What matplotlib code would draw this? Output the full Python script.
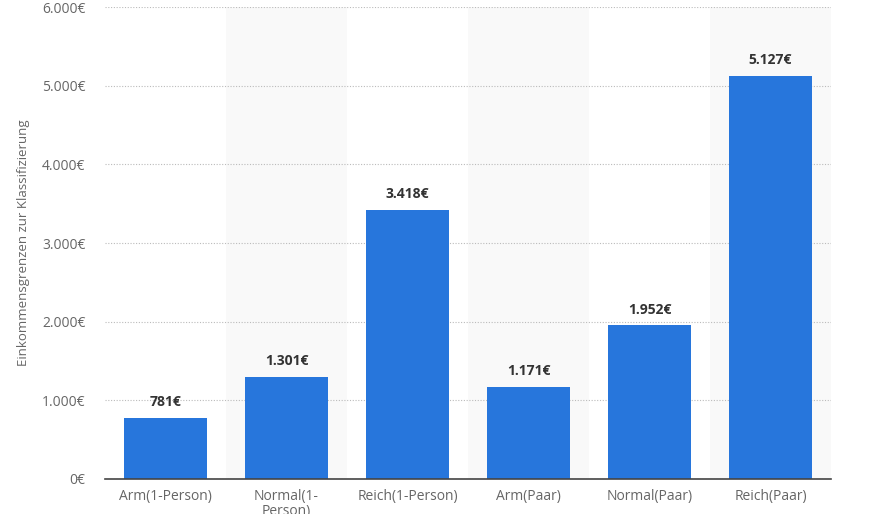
import matplotlib
matplotlib.use("Agg")
import matplotlib.pyplot as plt
from matplotlib.ticker import FuncFormatter

categories = ["Arm(1-Person)", "Normal(1-\nPerson)", "Reich(1-Person)", "Arm(Paar)", "Normal(Paar)", "Reich(Paar)"]
values = [781, 1301, 3418, 1171, 1952, 5127]
yticks = [0, 1000, 2000, 3000, 4000, 5000, 6000]
ylabel = "Einkommensgrenzen zur Klassifizierung"

def eur(v):
    return f"{int(v):,}".replace(",", ".") + "€"

plt.rcParams['font.family'] = ['Open Sans', 'DejaVu Sans']

fig = plt.figure(figsize=(8.69, 5.14), dpi=100)
ax = fig.add_axes([105/869, 35/514, 726/869, 472/514])

x = list(range(len(categories)))
for i in x:
    if i % 2 == 1:
        ax.axvspan(i - 0.5, i + 0.5, color="#f9f9f9", zorder=0, lw=0)

ax.bar(x, values, width=0.69, color="#2776dc", zorder=3)
for xi, v in zip(x, values):
    ax.text(xi, v + 110, eur(v), ha="center", va="bottom", fontsize=10,
            fontweight="bold", color="#333333", zorder=4)

ax.set_xlim(-0.5, len(categories) - 0.5)
ax.set_ylim(0, 6000)
ax.set_yticks(yticks)
ax.yaxis.set_major_formatter(FuncFormatter(lambda v, p: eur(v)))
ax.set_xticks(x)
ax.set_xticklabels(categories, linespacing=1.0)
ax.tick_params(axis="both", length=0, labelsize=10, colors="#666666")
ax.tick_params(axis="y", pad=14)
ax.tick_params(axis="x", pad=7)
ax.grid(axis="y", linestyle=(0, (1, 1.5)), color="#bbbbbb", linewidth=0.8, zorder=1)
for s in ["top", "right", "left"]:
    ax.spines[s].set_visible(False)
ax.spines["bottom"].set_color("#444444")
ax.spines["bottom"].set_linewidth(1.2)
ax.spines["bottom"].set_zorder(5)
ax.set_ylabel(ylabel, fontsize=9.5, color="#666666", labelpad=9)

fig.savefig("out.png", dpi=100)
